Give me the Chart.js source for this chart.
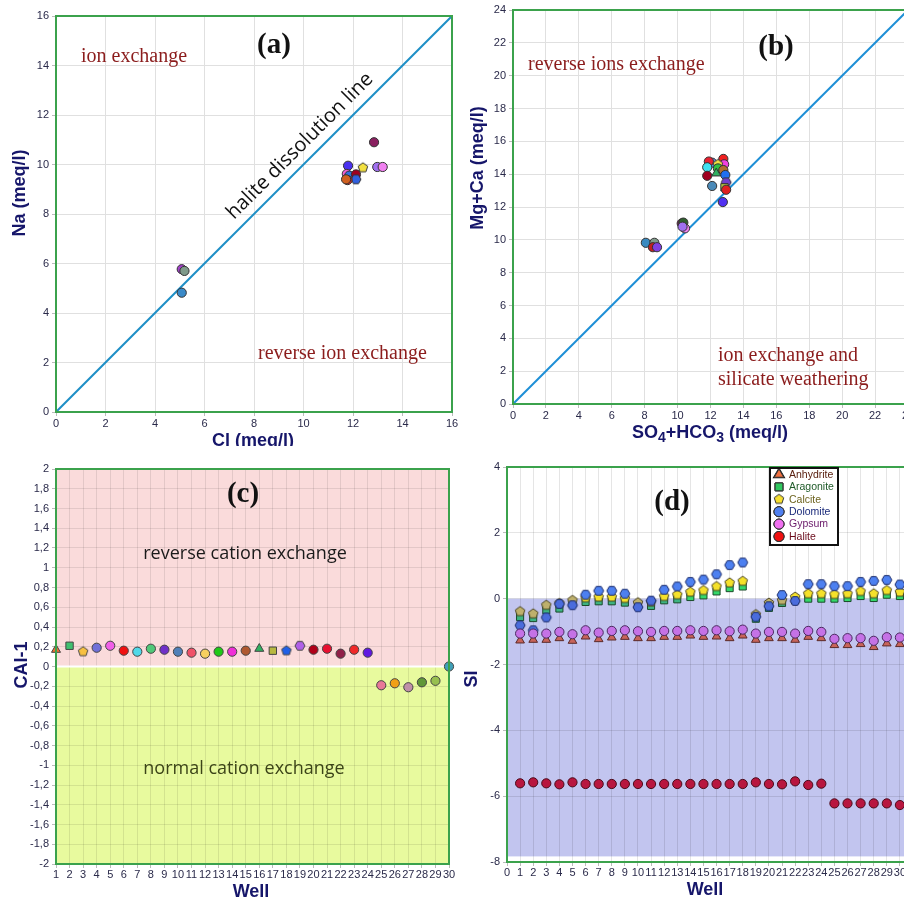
<!DOCTYPE html>
<html><head><meta charset="utf-8">
<script src="https://cdn.jsdelivr.net/npm/chart.js@4.4.1/dist/chart.umd.min.js"></script>
<style>
html,body{margin:0;padding:0;background:#fff;overflow:hidden;width:904px;height:900px;}
canvas{position:absolute;display:block;}
</style></head><body>
<canvas id="ca" width="460" height="446" style="left:0;top:0"></canvas>
<canvas id="cb" width="470" height="450" style="left:450px;top:0"></canvas>
<canvas id="cc" width="460" height="445" style="left:0;top:455px"></canvas>
<canvas id="cd" width="480" height="445" style="left:455px;top:455px"></canvas>
<script>
// ---------- DATA ----------
// (a) Na vs Cl (meq/l)
const clA = [5.08, 5.19, 5.08, 12.85, 11.80, 12.40, 12.98, 13.20, 11.75, 11.85, 12.12, 12.12, 11.78, 11.72];
const naA = [5.77, 5.70, 4.82, 10.90, 9.95, 9.87, 9.90, 9.90, 9.62, 9.55, 9.60, 9.40, 9.37, 9.40];
const lineA = [0, 16];
// (b) Mg+Ca vs SO4+HCO3 (meq/l)
const so4hco3B = [8.07, 8.59, 8.50, 8.75, 10.25, 10.35, 10.45, 10.30, 12.10, 11.90, 11.80, 11.80, 12.10, 12.78, 12.83, 12.45, 12.45, 12.35, 12.78, 12.90, 12.95, 12.85, 12.95, 12.75];
const mgcaB    = [9.82, 9.82, 9.55, 9.55, 11.00, 11.05, 10.70, 10.80, 14.70, 14.77, 14.42, 13.90, 13.28, 14.93, 14.60, 14.60, 14.35, 14.05, 14.25, 13.95, 13.50, 13.20, 13.05, 12.30];
const lineB = [0, 24];
// (c) CAI-1 per well
const wells = [1,2,3,4,5,6,7,8,9,10,11,12,13,14,15,16,17,18,19,20,21,22,23,24,25,26,27,28,29,30];
const caiC = [0.17,0.21,0.15,0.19,0.21,0.16,0.15,0.18,0.17,0.15,0.14,0.13,0.15,0.15,0.16,0.18,0.16,0.16,0.21,0.17,0.18,0.13,0.17,0.14,-0.19,-0.17,-0.21,-0.16,-0.145,0.0];
// (d) saturation indices per well
const anhydrite = [-1.27,-1.25,-1.25,-1.20,-1.28,-1.15,-1.23,-1.18,-1.16,-1.20,-1.20,-1.16,-1.16,-1.12,-1.16,-1.15,-1.20,-1.12,-1.25,-1.20,-1.20,-1.25,-1.16,-1.20,-1.41,-1.41,-1.38,-1.47,-1.36,-1.38];
const aragonite = [-0.56,-0.59,-0.35,-0.30,-0.15,-0.10,-0.08,-0.08,-0.12,-0.20,-0.22,-0.05,-0.02,0.05,0.10,0.22,0.32,0.37,-0.61,-0.28,-0.13,-0.05,0.00,0.00,0.00,0.02,0.08,0.02,0.12,0.08];
const calcite   = [-0.39,-0.46,-0.20,-0.14,-0.05,0.03,0.05,0.05,0.01,-0.12,-0.10,0.07,0.12,0.20,0.25,0.37,0.48,0.53,-0.48,-0.13,-0.05,0.05,0.15,0.15,0.13,0.15,0.22,0.15,0.25,0.20];
const dolomite  = [-0.81,-0.96,-0.57,-0.16,-0.20,0.12,0.24,0.24,0.15,-0.26,-0.06,0.27,0.37,0.51,0.58,0.74,1.02,1.10,-0.55,-0.23,0.11,-0.07,0.44,0.44,0.38,0.38,0.51,0.54,0.57,0.43];
const gypsum    = [-1.06,-1.06,-1.06,-1.01,-1.08,-0.96,-1.03,-0.98,-0.96,-0.99,-1.01,-0.98,-0.98,-0.96,-0.98,-0.96,-0.99,-0.94,-1.06,-1.01,-1.01,-1.06,-0.98,-1.01,-1.22,-1.20,-1.20,-1.28,-1.17,-1.18];
const halite    = [-5.61,-5.58,-5.61,-5.64,-5.58,-5.63,-5.63,-5.63,-5.63,-5.63,-5.63,-5.63,-5.63,-5.63,-5.63,-5.63,-5.63,-5.63,-5.58,-5.63,-5.64,-5.55,-5.66,-5.62,-6.22,-6.22,-6.22,-6.22,-6.22,-6.27];
const mineralNames = ['Anhydrite','Aragonite','Calcite','Dolomite','Gypsum','Halite'];

// ---------- STYLES ----------
const colA = ['#a040c8','#7f9a8a','#3a8ac8','#8a2060','#4a30f0','#f2e040','#a070f0','#f080f0','#f060d0','#3070e0','#a00020','#3060e0','#e82020','#d06020'];
const shpA = ['circle','circle','circle','circle','circle','pentagon','circle','circle','circle','circle','circle','hexagon','circle','circle'];
const colB = ['#3a8ac0','#7f9a8a','#c02020','#8040e0','#8a2060','#306030','#f080f0','#a070f0','#6090e0','#e82030','#40e0f0','#a00020','#4a8ab8','#f02020','#f040e0','#f2e040','#30c040','#30b060','#b07030','#2070f0','#7040d0','#b0c040','#e02020','#5030f0'];
const shpB = ['circle','circle','circle','circle','circle','circle','circle','circle','circle','circle','circle','circle','circle','circle','circle','pentagon','circle','triangle','circle','circle','hexagon','rect','circle','circle'];
const colC = ['#f07030','#40c070','#f8c040','#7070d8','#f060e8','#f01010','#50d8e8','#50c878','#7030c8','#5080b8','#f05068','#f8d060','#20c818','#f030d8','#b05830','#30b060','#b8b840','#2060e8','#b060e8','#b00018','#e81030','#902048','#f02828','#6018e0','#e87898','#f0a018','#c090a8','#609838','#98c050','#40a0b8'];
const shpC = ['triangle','rect','pentagon','circle','circle','circle','circle','circle','circle','circle','circle','circle','circle','circle','circle','triangle','rect','pentagon','hexagon','circle','circle','circle','circle','circle','circle','circle','circle','circle','circle','circle'];

Chart.defaults.font.family = '"Liberation Sans", Arial, sans-serif';
Chart.defaults.animation = false;
Chart.defaults.plugins.legend.display = false;
Chart.defaults.plugins.tooltip.enabled = false;

const imgCache = {};
function polyImg(sides, fill, stroke, r, rot) {
  const key = [sides, fill, stroke, r, rot].join('|');
  if (imgCache[key]) return imgCache[key];
  const s = Math.ceil(2 * r + 4);
  const c = document.createElement('canvas'); c.width = s; c.height = s;
  const g = c.getContext('2d');
  g.beginPath();
  for (let i = 0; i < sides; i++) {
    const a = rot + i * 2 * Math.PI / sides;
    const px = s / 2 + r * Math.cos(a), py = s / 2 + r * Math.sin(a);
    i ? g.lineTo(px, py) : g.moveTo(px, py);
  }
  g.closePath(); g.fillStyle = fill; g.fill(); g.lineWidth = 1; g.strokeStyle = stroke; g.stroke();
  return imgCache[key] = c;
}
function styleFor(shape, fill, stroke, r) {
  if (shape === 'pentagon') return polyImg(5, fill, stroke, r, -Math.PI / 2);
  if (shape === 'hexagon') return polyImg(6, fill, stroke, r, 0);
  return shape;
}
function radiusFor(shape) { return shape === 'circle' ? 4.6 : 5.2; }

function drawRich(ctx, t) {
  ctx.save();
  ctx.translate(t.x, t.y);
  if (t.rot) ctx.rotate(t.rot * Math.PI / 180);
  ctx.fillStyle = t.color || '#111';
  ctx.textBaseline = 'middle';
  const segs = t.segs || [[t.text, 0]];
  const mainFont = t.font, subFont = t.subFont || t.font;
  let total = 0;
  segs.forEach(s => { ctx.font = s[1] ? subFont : mainFont; total += ctx.measureText(s[0]).width; });
  let x = t.align === 'left' ? 0 : -total / 2;
  ctx.textAlign = 'left';
  segs.forEach(s => { ctx.font = s[1] ? subFont : mainFont; ctx.fillText(s[0], x, s[1] ? 5 : 0); x += ctx.measureText(s[0]).width; });
  ctx.restore();
}

const decor = {
  id: 'decor',
  beforeDraw(chart, args, o) {
    const { ctx, chartArea: a } = chart; const y = chart.scales.y;
    (o.bands || []).forEach(b => {
      const y1 = y.getPixelForValue(b.from), y2 = y.getPixelForValue(b.to);
      ctx.save(); ctx.fillStyle = b.color;
      ctx.fillRect(a.left, Math.min(y1, y2), a.right - a.left, Math.abs(y2 - y1));
      ctx.restore();
    });
  },
  beforeDatasetsDraw(chart, args, o) {
    const { ctx, chartArea: a } = chart; const y = chart.scales.y;
    (o.hlines || []).forEach(h => {
      const py = y.getPixelForValue(h.value);
      ctx.save(); ctx.strokeStyle = h.color; ctx.lineWidth = h.width;
      ctx.beginPath(); ctx.moveTo(a.left, py); ctx.lineTo(a.right, py); ctx.stroke(); ctx.restore();
    });
  },
  afterDraw(chart, args, o) {
    const { ctx, chartArea: a } = chart;
    ctx.save();
    ctx.strokeStyle = '#3ba24c'; ctx.lineWidth = 2;
    ctx.strokeRect(a.left, a.top, a.right - a.left, a.bottom - a.top);
    ctx.restore();
    (o.texts || []).forEach(t => drawRich(ctx, t));
    if (o.legend) {
      const L = o.legend;
      ctx.save();
      ctx.fillStyle = '#fff'; ctx.fillRect(L.x, L.y, L.w, L.h);
      ctx.strokeStyle = '#111'; ctx.lineWidth = 2; ctx.strokeRect(L.x, L.y, L.w, L.h);
      L.items.forEach((it, i) => {
        const cy = L.y + L.first + i * L.step;
        const st = styleFor(it.shape, it.fill, '#333', 5);
        Chart.helpers.drawPoint(ctx, { pointStyle: st, radius: it.shape === 'circle' ? 5 : 5.5, rotation: 0, borderWidth: 1 }, L.x + 9, cy);
        if (typeof st === 'string') {
          ctx.fillStyle = it.fill; ctx.strokeStyle = '#333'; ctx.lineWidth = 1;
          ctx.beginPath();
          Chart.helpers.drawPoint(ctx, { pointStyle: st, radius: it.shape === 'circle' ? 5 : 5.5, rotation: 0, borderWidth: 1 }, L.x + 9, cy);
          ctx.fill(); ctx.stroke();
        }
        ctx.fillStyle = it.text; ctx.font = '10.5px "Liberation Sans", Arial, sans-serif';
        ctx.textBaseline = 'middle'; ctx.textAlign = 'left';
        ctx.fillText(it.label, L.x + 19, cy + 0.5);
      });
      ctx.restore();
    }
  }
};
Chart.register(decor);

const tickFont = { size: 11 };
const tickColor = '#2a2a4a';
function linAxis(min, max, step, gridColor, fit, fmt, pad) {
  return {
    type: 'linear', min, max,
    ticks: { stepSize: step, autoSkip: false, maxRotation: 0, color: tickColor, font: tickFont, padding: pad, callback: fmt || (v => String(Math.round(v * 100) / 100)) },
    grid: { color: gridColor, tickLength: 4, tickColor: '#bbb', drawTicks: true },
    border: { display: false },
    afterFit: fit
  };
}
const titleFont = 'bold 18px "Liberation Sans", Arial, sans-serif';
const titleColor = '#16166a';
const serif20 = '20px "Liberation Serif", "Times New Roman", serif';
const bigLbl = 'bold 29px "Liberation Serif", "Times New Roman", serif';
const noteRed = '#8b1c1c';

// ---------- (a) ----------
new Chart(document.getElementById('ca'), {
  type: 'scatter',
  data: { datasets: [
    { data: clA.map((v, i) => ({ x: v, y: naA[i] })),
      pointStyle: c => styleFor(shpA[c.dataIndex], colA[c.dataIndex], '#333', 5),
      pointRadius: c => radiusFor(shpA[c.dataIndex]),
      backgroundColor: c => colA[c.dataIndex], borderColor: '#333', borderWidth: 1, order: 1, clip: false },
    { type: 'line', data: lineA.map(v => ({ x: v, y: v })), borderColor: '#1e8fc6', borderWidth: 2, pointRadius: 0, order: 2 }
  ]},
  options: {
    responsive: false,
    layout: { padding: { top: 16, right: 8, left: 0, bottom: 0 } },
    scales: {
      x: linAxis(0, 16, 2, '#e0e0e0', s => { s.height = 34; }, null, 1),
      y: linAxis(0, 16, 2, '#e0e0e0', s => { s.width = 56; }, null, 3)
    },
    plugins: { decor: { texts: [
      { text: '(a)', x: 274, y: 46, font: bigLbl, color: '#111' },
      { text: 'ion exchange', x: 81, y: 57, font: serif20, color: noteRed, align: 'left' },
      { text: 'reverse ion exchange', x: 258, y: 354, font: serif20, color: noteRed, align: 'left' },
      { text: 'halite dissolution line', x: 300, y: 146, rot: -45, font: '20px "Open Sans", sans-serif', color: '#111' },
      { text: 'Na (meq/l)', x: 20, y: 193, rot: -90, font: titleFont, color: titleColor },
      { text: 'Cl (meq/l)', x: 253, y: 441, font: titleFont, color: titleColor }
    ] } }
  }
});

// ---------- (b) ----------
new Chart(document.getElementById('cb'), {
  type: 'scatter',
  data: { datasets: [
    { data: so4hco3B.map((v, i) => ({ x: v, y: mgcaB[i] })),
      pointStyle: c => styleFor(shpB[c.dataIndex], colB[c.dataIndex], '#333', 5),
      pointRadius: c => radiusFor(shpB[c.dataIndex]),
      backgroundColor: c => colB[c.dataIndex], borderColor: '#333', borderWidth: 1, order: 1, clip: false },
    { type: 'line', data: lineB.map(v => ({ x: v, y: v })), borderColor: '#1e8fd6', borderWidth: 2, pointRadius: 0, order: 2 }
  ]},
  options: {
    responsive: false,
    layout: { padding: { top: 10, right: 12, left: 0, bottom: 0 } },
    scales: {
      x: linAxis(0, 24, 2, '#e0e0e0', s => { s.height = 46; }, null, 1),
      y: linAxis(0, 24, 2, '#e0e0e0', s => { s.width = 63; }, null, 3)
    },
    plugins: { decor: { texts: [
      { text: '(b)', x: 326, y: 48, font: bigLbl, color: '#111' },
      { text: 'reverse ions exchange', x: 78, y: 65, font: serif20, color: noteRed, align: 'left' },
      { text: 'ion exchange and', x: 268, y: 356, font: serif20, color: noteRed, align: 'left' },
      { text: 'silicate weathering', x: 268, y: 380, font: serif20, color: noteRed, align: 'left' },
      { text: 'Mg+Ca (meq/l)', x: 28, y: 168, rot: -90, font: titleFont, color: titleColor },
      { segs: [['SO', 0], ['4', 1], ['+HCO', 0], ['3', 1], [' (meq/l)', 0]], x: 260, y: 433, font: titleFont, subFont: 'bold 14px "Liberation Sans", Arial, sans-serif', color: titleColor }
    ] } }
  }
});

// ---------- (c) ----------
const commaFmt = v => String(Math.round(v * 10) / 10).replace('.', ',');
new Chart(document.getElementById('cc'), {
  type: 'scatter',
  data: { datasets: [
    { data: wells.map((w, i) => ({ x: w, y: caiC[i] })),
      pointStyle: c => styleFor(shpC[c.dataIndex], colC[c.dataIndex], '#444', 5),
      pointRadius: c => radiusFor(shpC[c.dataIndex]),
      backgroundColor: c => colC[c.dataIndex], borderColor: '#444', borderWidth: 1, clip: false }
  ]},
  options: {
    responsive: false,
    layout: { padding: { top: 14, right: 11, left: 0, bottom: 0 } },
    scales: {
      x: linAxis(1, 30, 1, 'rgba(0,0,0,0.09)', s => { s.height = 36; }, null, 0),
      y: linAxis(-2, 2, 0.2, 'rgba(0,0,0,0.09)', s => { s.width = 56; }, commaFmt, 3)
    },
    plugins: { decor: {
      bands: [{ from: 0, to: 2, color: '#fadbdb' }, { from: -2, to: 0, color: '#e8fa9e' }],
      hlines: [{ value: 0, color: '#ffffff', width: 2 }],
      texts: [
        { text: '(c)', x: 243, y: 40, font: bigLbl, color: '#111' },
        { text: 'reverse cation exchange', x: 245, y: 99, font: '18px "Open Sans", sans-serif', color: '#1a1a1a' },
        { text: 'normal cation exchange', x: 244, y: 314, font: '18px "Open Sans", sans-serif', color: '#3c4418' },
        { text: 'CAI-1', x: 22, y: 210, rot: -90, font: titleFont, color: titleColor },
        { text: 'Well', x: 251, y: 437, font: titleFont, color: titleColor }
      ] } }
  }
});

// ---------- (d) ----------
const wellPts = arr => wells.map((w, i) => ({ x: w, y: arr[i] }));
new Chart(document.getElementById('cd'), {
  type: 'scatter',
  data: { datasets: [
    { label: 'Anhydrite', data: wellPts(anhydrite), pointStyle: 'triangle', pointRadius: 5, backgroundColor: '#c8645a', borderColor: '#5a2a2a', borderWidth: 1, order: 5 },
    { label: 'Aragonite', data: wellPts(aragonite), pointStyle: 'rect', pointRadius: 5, backgroundColor: c => c.raw.y >= 0 ? '#34d86a' : '#3db482', borderColor: '#1a4a2a', borderWidth: 1, order: 4 },
    { label: 'Calcite', data: wellPts(calcite), pointStyle: c => styleFor('pentagon', c.raw.y >= 0 ? '#f5e12a' : '#beb06c', '#4a4420', 5), pointRadius: 5, order: 3 },
    { label: 'Dolomite', data: wellPts(dolomite), pointStyle: c => styleFor('hexagon', c.raw.y >= 0 ? '#4d80f0' : '#4a6cdc', '#1a2a6a', 5), pointRadius: 5, order: 2 },
    { label: 'Gypsum', data: wellPts(gypsum), pointStyle: 'circle', pointRadius: 4.6, backgroundColor: '#c572e6', borderColor: '#4a2a60', borderWidth: 1, order: 1 },
    { label: 'Halite', data: wellPts(halite), pointStyle: 'circle', pointRadius: 4.6, backgroundColor: '#b8163f', borderColor: '#4a0a1a', borderWidth: 1, order: 6 }
  ]},
  options: {
    responsive: false,
    layout: { padding: { top: 12, right: 22, left: 0, bottom: 0 } },
    scales: {
      x: linAxis(0, 31, 1, 'rgba(0,0,0,0.1)', s => { s.height = 38; }, null, 0),
      y: linAxis(-8, 4, 2, 'rgba(0,0,0,0.1)', s => { s.width = 52; }, null, 3)
    },
    plugins: { decor: {
      bands: [{ from: 0, to: -7.83, color: '#c2c5ef' }],
      texts: [
        { text: '(d)', x: 217, y: 48, font: bigLbl, color: '#111' },
        { text: 'SI', x: 17, y: 224, rot: -90, font: titleFont, color: titleColor },
        { text: 'Well', x: 250, y: 435, font: titleFont, color: titleColor }
      ],
      legend: { x: 315, y: 13, w: 68, h: 77, first: 6.5, step: 12.4, items: [
        { label: mineralNames[0], shape: 'triangle', fill: '#f07040', text: '#5a2010' },
        { label: mineralNames[1], shape: 'rect', fill: '#30c860', text: '#1e5a28' },
        { label: mineralNames[2], shape: 'pentagon', fill: '#f8e030', text: '#6e6420' },
        { label: mineralNames[3], shape: 'circle', fill: '#5080f0', text: '#1a2a7a' },
        { label: mineralNames[4], shape: 'circle', fill: '#f070f0', text: '#6a1a6a' },
        { label: mineralNames[5], shape: 'circle', fill: '#f01010', text: '#6a0a1a' }
      ] }
    } }
  }
});
</script>
</body></html>
